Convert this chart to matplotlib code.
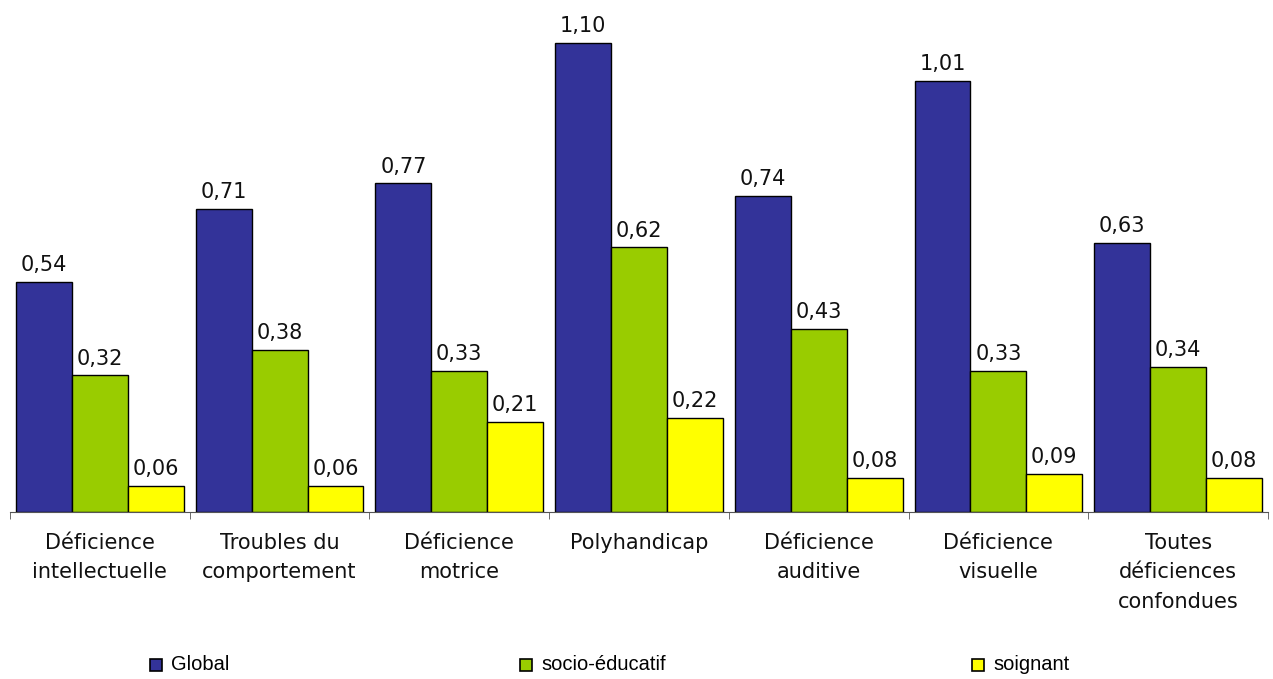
import matplotlib
matplotlib.use("Agg")
import matplotlib.pyplot as plt
from matplotlib.patches import Rectangle
import numpy as np

categories = ["Déficience\nintellectuelle", "Troubles du\ncomportement", "Déficience\nmotrice",
              "Polyhandicap", "Déficience\nauditive", "Déficience\nvisuelle",
              "Toutes\ndéficiences\nconfondues"]
series_names = ["Global", "socio-éducatif", "soignant"]
global_vals = [0.54, 0.71, 0.77, 1.10, 0.74, 1.01, 0.63]
socio_vals = [0.32, 0.38, 0.33, 0.62, 0.43, 0.33, 0.34]
soignant_vals = [0.06, 0.06, 0.21, 0.22, 0.08, 0.09, 0.08]
colors = ["#333399", "#99CC00", "#FFFF00"]

W, H = 1273, 679
fig = plt.figure(figsize=(W / 100, H / 100), dpi=100)
ax = fig.add_axes([10 / W, (H - 512) / H, 1258 / W, 512 / H])

x = np.arange(len(categories))
bw = 0.311
for i, (vals, col) in enumerate(zip([global_vals, socio_vals, soignant_vals], colors)):
    pos = x + (i - 1) * bw
    bars = ax.bar(pos, vals, width=bw, color=col, edgecolor="black", linewidth=1.0)
    for b, v in zip(bars, vals):
        ax.annotate(f"{v:.2f}".replace(".", ","), (b.get_x() + b.get_width() / 2, v),
                    xytext=(0, 5), textcoords="offset points", ha="center", va="bottom",
                    fontsize=15, family="DejaVu Sans", color="#111111")

ax.set_xlim(-0.5, len(categories) - 0.5)
ax.set_ylim(0, 1.2)
for s in ["left", "right", "top"]:
    ax.spines[s].set_visible(False)
ax.spines["bottom"].set_color("#555555")
ax.set_yticks([])
ax.set_xticks(x)
ax.set_xticklabels(categories, fontsize=15, family="DejaVu Sans", linespacing=1.6, color="#111111")
ax.tick_params(axis="x", which="major", length=0, pad=15)
ax.set_xticks(np.arange(len(categories) + 1) - 0.5, minor=True)
ax.tick_params(axis="x", which="minor", length=5, color="#555555", direction="out")

# legend
leg_x = [150, 520, 972]
for name, col, lx in zip(series_names, colors, leg_x):
    fig.patches.append(Rectangle((lx / W, (H - 671) / H), 12 / W, 12 / H, transform=fig.transFigure,
                                 facecolor=col, edgecolor="black", linewidth=1.2))
    fig.text((lx + 21) / W, (H - 665) / H, name, fontsize=14.5, family="Liberation Sans",
             va="center", ha="left", color="black")

fig.savefig("out.png", dpi=100)
